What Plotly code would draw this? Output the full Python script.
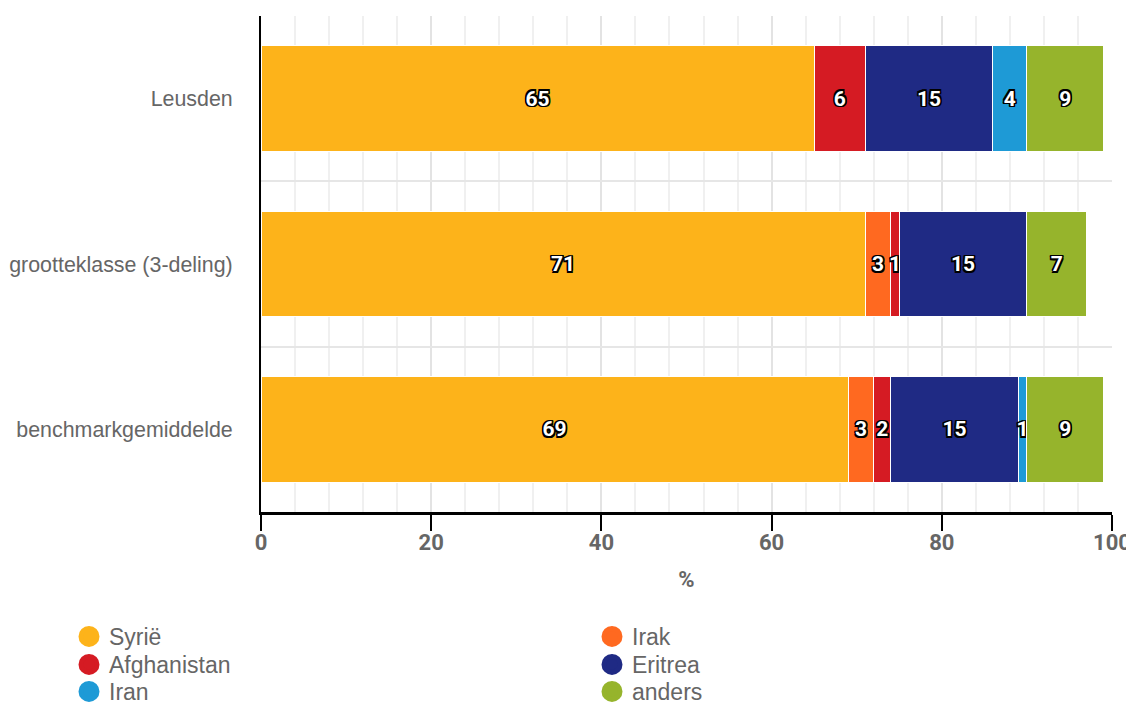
import plotly.graph_objects as go

categories = ["Leusden", "grootteklasse (3-deling)", "benchmarkgemiddelde"]
series_names = ["Syrië", "Irak", "Afghanistan", "Eritrea", "Iran", "anders"]
syrie = [65, 71, 69]
irak = [0, 3, 3]
afghanistan = [6, 1, 2]
eritrea = [15, 15, 15]
iran = [4, 0, 1]
anders = [9, 7, 9]
colors = ["#FDB31A", "#FF6920", "#D51B23", "#1F2A84", "#1E9AD6", "#96B42C"]
x_ticks = [0, 20, 40, 60, 80, 100]

values = [syrie, irak, afghanistan, eritrea, iran, anders]

outline = ("1.5px 1.5px 0 #000, -1.5px -1.5px 0 #000, 1.5px -1.5px 0 #000, -1.5px 1.5px 0 #000, "
           "0 1.5px 0 #000, 0 -1.5px 0 #000, 1.5px 0 0 #000, -1.5px 0 0 #000")

# page body has an 8px margin; figure coordinates are page coordinates minus 8
W, H = 1126, 716
L, R, T = 253, 22, 0
PLOT_TOP, PLOT_BOTTOM = 8, 504
B = H - PLOT_BOTTOM
PW, PH = W - L - R, H - T - B

# legend grid: two columns, three rows (row-major order of series)
col_x = [61, 584]
row_center = [629, 657, 684]
LEG_OFF = 22

fig = go.Figure()
for name, vals, col in zip(series_names, values, colors):
    fig.add_trace(go.Bar(
        y=categories, x=vals, orientation="h", name=name,
        marker=dict(color=col, line=dict(color="white", width=1)),
        text=[str(v) if v else "" for v in vals],
        texttemplate="%{text}",
        textposition="inside", insidetextanchor="middle", textangle=0,
        textfont=dict(color="white", size=21, family="Roboto", weight="bold", shadow=outline),
        showlegend=False, hoverinfo="x+name",
    ))

legend_font = dict(size=23, color="#666666", family="Liberation Sans, Arial, sans-serif")
legends = {}
for i, (name, col) in enumerate(zip(series_names, colors)):
    key = "legend" if i == 0 else f"legend{i + 1}"
    fig.add_trace(go.Scatter(
        x=[None], y=[None], mode="markers", name=name,
        marker=dict(color=col, size=16, symbol="circle", line=dict(color=col, width=5)),
        showlegend=True, legend=key,
    ))
    top = row_center[i // 2] - LEG_OFF
    legends[key] = dict(
        orientation="v",
        x=(col_x[i % 2] - L) / PW, xanchor="left",
        y=(PLOT_BOTTOM - top) / PH, yanchor="top",
        font=legend_font, bgcolor="rgba(0,0,0,0)",
    )

fig.update_layout(
    barmode="stack",
    bargap=0.36,
    width=W, height=H,
    margin=dict(l=L, r=R, t=T, b=B),
    plot_bgcolor="white", paper_bgcolor="white",
    uniformtext=dict(minsize=21, mode="show"),
    font=dict(family="Liberation Sans, Arial, sans-serif", color="#666666"),
    showlegend=True,
    **legends,
)

fig.update_xaxes(
    range=[0, 100], tickvals=x_ticks,
    showline=True, linecolor="black", linewidth=3,
    ticks="outside", ticklen=16, tickwidth=2, tickcolor="black",
    tickfont=dict(size=22, family="Roboto", weight="bold", color="#666666"),
    ticklabelstandoff=-7, ticklabeloverflow="allow",
    showgrid=True, gridcolor="#e3e3e3", gridwidth=2,
    minor=dict(dtick=4, showgrid=True, gridcolor="#f0f0f0", gridwidth=2),
    title=dict(text="%", font=dict(size=22, family="Roboto", weight="bold", color="#666666"), standoff=18),
    zeroline=False, fixedrange=True, automargin=False,
)
fig.update_yaxes(
    type="category", categoryorder="array", categoryarray=categories,
    autorange="reversed",
    domain=[0, (PLOT_BOTTOM - PLOT_TOP) / PH],
    showline=True, linecolor="black", linewidth=2,
    ticks="", tickson="boundaries",
    showgrid=True, gridcolor="#e6e6e6", gridwidth=2,
    tickfont=dict(size=21.4, color="#666666", family="Liberation Sans, Arial, sans-serif"),
    ticklabelstandoff=22,
    fixedrange=True, automargin=False,
)

fig.write_html(
    "out.html",
    post_script="document.documentElement.style.overflow='hidden';",
)
